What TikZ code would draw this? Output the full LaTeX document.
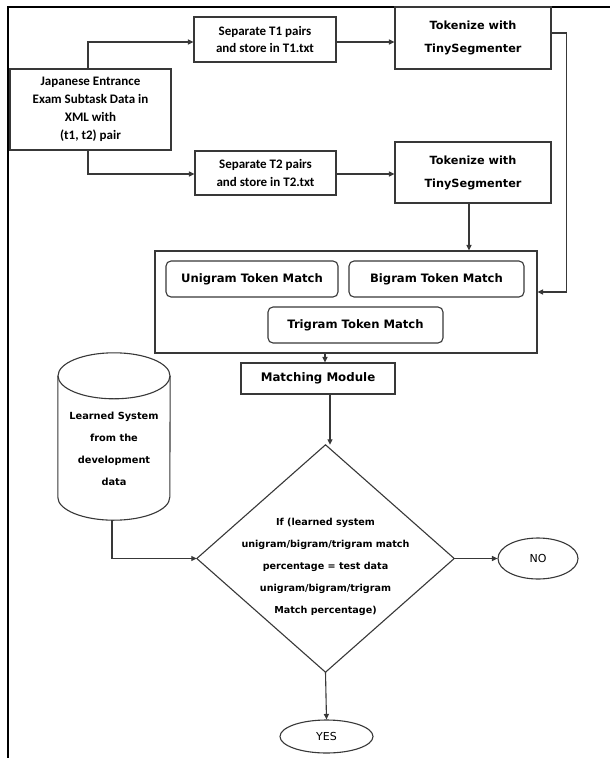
\documentclass[tikz,border=0pt]{standalone}
\usepackage{fontspec}
\setmainfont{DejaVu Sans}
\newfontfamily\calfont{Carlito}
\newfontfamily\djvfont{DejaVu Sans}
\usetikzlibrary{arrows.meta,shapes.geometric}
\begin{document}
\begin{tikzpicture}[x=1pt,y=-1pt,
  lin/.style={draw=black!78,line width=1.1pt},
  arr/.style={lin,-{Triangle[length=5.5pt,width=5pt]}},
  calbox/.style={lin,rectangle,inner sep=0pt,align=center,font=\calfont\bfseries\fontsize{13}{17.8}\selectfont},
  cbox/.style={lin,rectangle,inner sep=0pt,align=center,font=\djvfont\bfseries\fontsize{11.3}{23}\selectfont},
  rbox/.style={lin,rectangle,rounded corners=5pt,inner sep=0pt,align=center,font=\djvfont\bfseries\fontsize{11.6}{14}\selectfont},
  oval/.style={lin,ellipse,inner sep=0pt,font=\djvfont\fontsize{11}{13}\selectfont}]
\useasboundingbox[fill=white] (0,0) rectangle (610,758);
% frame
\draw[line width=2.6pt,black] (8,758) -- (8,7) -- (610,7);
% nodes
\node[calbox,minimum width=161pt,minimum height=81pt] (in) at (90.5,109.5)
  {Japanese Entrance\\Exam Subtask Data in\\XML with\\(t1, t2) pair};
\node[calbox,minimum width=142pt,minimum height=45pt] (s1) at (265,39.5)
  {Separate T1 pairs\\and store in T1.txt};
\node[calbox,minimum width=141pt,minimum height=44pt] (s2) at (265.5,173)
  {Separate T2 pairs\\and store in T2.txt};
\node[cbox,minimum width=156pt,minimum height=62pt] (t1) at (473,38)
  {Tokenize with\\TinySegmenter};
\node[cbox,minimum width=156pt,minimum height=61pt] (t2) at (473,172.5)
  {Tokenize with\\TinySegmenter};
\node[lin,rectangle,minimum width=382pt,minimum height=102pt] (big) at (346,302) {};
\node[rbox,minimum width=172pt,minimum height=36pt] (uni) at (252,279) {Unigram Token Match};
\node[rbox,minimum width=175pt,minimum height=36pt] (bi) at (436.5,279) {Bigram Token Match};
\node[rbox,minimum width=175pt,minimum height=36pt] (tri) at (355.5,325) {Trigram Token Match};
\node[lin,rectangle,inner sep=0pt,minimum width=154pt,minimum height=31pt,font=\djvfont\bfseries\fontsize{11.8}{13}\selectfont] (mm) at (318,378.5) {Matching Module};
% cylinder
\node[minimum width=112pt,minimum height=167pt,inner sep=0pt,align=center,
  font=\djvfont\bfseries\fontsize{9.8}{22}\selectfont] (cyl) at (114,436.5)
  {\\[10pt]Learned System\\from the\\development\\data};
\draw[lin] ([yshift=-23pt]cyl.north) ellipse [x radius=56pt,y radius=23pt];
\draw[lin] ([yshift=-23pt]cyl.north west) -- ([yshift=23pt]cyl.south west)
  arc[start angle=180,end angle=360,x radius=56pt,y radius=23pt]
  -- ([yshift=-23pt]cyl.north east);
% decision
\node[minimum width=257pt,minimum height=227pt,inner sep=0pt,align=center,
  font=\djvfont\bfseries\fontsize{9.6}{22}\selectfont] (dia) at (325.5,558.5)
  {\mbox{}\\[2pt]If (learned system\\unigram/bigram/trigram match\\percentage = test data\\unigram/bigram/trigram\\Match percentage)};
\draw[lin] (dia.north) -- (dia.east) -- (dia.south) -- (dia.west) -- cycle;
\node[oval,minimum width=80pt,minimum height=41pt] (no) at (538,558.5) {NO};
\node[oval,minimum width=93pt,minimum height=33pt] (yes) at (326.5,736.5) {YES};
% connectors
\draw[arr] ([xshift=-2.5pt]in.north) |- ([yshift=-2.5pt]s1.west);
\draw[arr] ([yshift=-2.5pt]s1.east) -- ([yshift=-2.5pt]s1.east -| t1.west);
\draw[arr] ([xshift=-2.5pt]in.south) |- ([yshift=-1pt]s2.west);
\draw[arr] ([yshift=-1pt]s2.east) -- ([yshift=-1pt]s2.east -| t2.west);
\draw[arr] ([xshift=-4pt]t2.south) -- ([xshift=-4pt]t2.south |- big.north);
\draw[arr] ([yshift=5pt]t1.east) -- ++(15pt,0) |- ([yshift=10pt]big.east);
\draw[arr] ([xshift=7pt]mm.north |- big.south) -- ([xshift=7pt]mm.north);
\draw[arr] ([xshift=4.5pt]dia.north |- mm.south) -- ([xshift=4.5pt]dia.north);
\draw[arr] ([xshift=-2pt]cyl.south) |- (dia.west);
\draw[arr] (dia.east) -- (no.west);
\draw[arr] (dia.south) -- (yes.north);
\end{tikzpicture}
\end{document}
